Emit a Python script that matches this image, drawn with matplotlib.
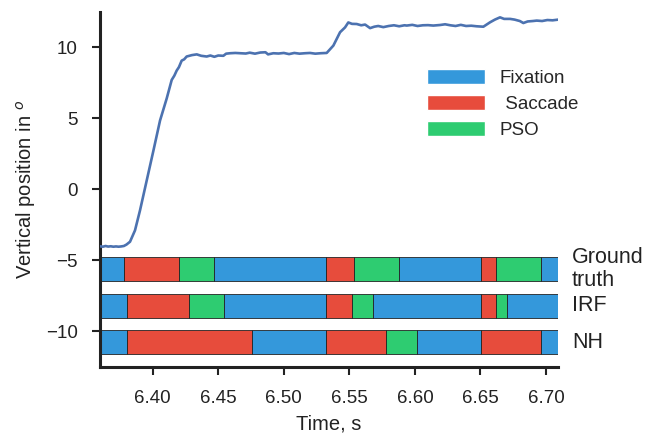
import matplotlib
matplotlib.use("Agg")
import matplotlib.pyplot as plt
import seaborn as sns
from matplotlib.patches import Patch

# eye-tracking trace, time in s and vertical position in degrees
time = [6.3598, 6.362, 6.364, 6.366, 6.368, 6.370, 6.372, 6.374, 6.376, 6.378,
        6.380, 6.3827, 6.3865, 6.3903, 6.3954, 6.4005, 6.4056, 6.4107, 6.4145, 6.4165,
        6.4183, 6.420, 6.4221, 6.424, 6.4259, 6.430, 6.4336, 6.437, 6.4412, 6.444,
        6.447, 6.450, 6.4539, 6.456, 6.459, 6.463, 6.467, 6.471, 6.474, 6.478,
        6.482, 6.486, 6.488, 6.492, 6.496, 6.500, 6.504, 6.508, 6.512, 6.516,
        6.520, 6.524, 6.528, 6.5327, 6.5378, 6.5429, 6.5467, 6.5492, 6.552, 6.5556,
        6.559, 6.562, 6.5658, 6.569, 6.572, 6.5759, 6.580, 6.584, 6.588, 6.592,
        6.5938, 6.598, 6.602, 6.606, 6.610, 6.614, 6.6192, 6.623, 6.627, 6.631,
        6.635, 6.639, 6.643, 6.647, 6.6522, 6.6573, 6.661, 6.6649, 6.668, 6.6726,
        6.676, 6.680, 6.6827, 6.686, 6.690, 6.6929, 6.697, 6.701, 6.705, 6.7094]
position = [-4.02, -4.05, -4.0, -4.04, -4.02, -4.05, -4.03, -4.05, -4.03, -4.0,
            -3.9, -3.7, -2.9, -1.5, 0.6, 2.7, 4.84, 6.4, 7.7, 8.0,
            8.36, 8.6, 9.06, 9.15, 9.35, 9.45, 9.5, 9.4, 9.35, 9.42,
            9.33, 9.42, 9.4, 9.55, 9.58, 9.6, 9.58, 9.56, 9.62, 9.55,
            9.63, 9.65, 9.5, 9.58, 9.56, 9.6, 9.52, 9.6, 9.55, 9.58,
            9.6, 9.55, 9.58, 9.6, 10.12, 11.06, 11.4, 11.75, 11.65, 11.64,
            11.55, 11.6, 11.35, 11.45, 11.5, 11.42, 11.5, 11.55, 11.48, 11.55,
            11.53, 11.58, 11.5, 11.55, 11.56, 11.53, 11.57, 11.62, 11.55, 11.5,
            11.58, 11.5, 11.52, 11.48, 11.45, 11.76, 11.95, 12.11, 12.0, 12.0,
            11.95, 11.85, 11.71, 11.82, 11.85, 11.88, 11.85, 11.92, 11.9, 11.95]

# event segmentation per method: boundaries and the event in each segment
gt_bounds = [6.3598, 6.3783, 6.4203, 6.4465, 6.532, 6.5538, 6.5881, 6.6502, 6.6619, 6.696, 6.7094]
gt_events = ["Fixation", "Saccade", "PSO", "Fixation", "Saccade", "PSO", "Fixation", "Saccade", "PSO", "Fixation"]
irf_bounds = [6.3598, 6.3802, 6.428, 6.4542, 6.532, 6.5518, 6.5678, 6.6502, 6.6619, 6.670, 6.7094]
irf_events = ["Fixation", "Saccade", "PSO", "Fixation", "Saccade", "PSO", "Fixation", "Saccade", "PSO", "Fixation"]
nh_bounds = [6.3598, 6.3802, 6.476, 6.532, 6.5777, 6.6019, 6.6502, 6.696, 6.7094]
nh_events = ["Fixation", "Saccade", "Fixation", "Saccade", "PSO", "Fixation", "Saccade", "Fixation"]

row_names = ["Ground\ntruth", "IRF", "NH"]
colors = {"Fixation": "#3498db", "Saccade": "#e74c3c", "PSO": "#2ecc71"}

sns.set_style("ticks")
plt.rcParams["font.family"] = ["Liberation Sans", "DejaVu Sans"]

fig = plt.figure(figsize=(6.6, 4.37), dpi=100)
ax = fig.add_axes([0.1515, 0.161, 0.6945, 0.812])

ax.plot(time, position, color="#4c72b0", lw=1.9, zorder=3)

# horizontal bars for each method
rows = [(gt_bounds, gt_events), (irf_bounds, irf_events), (nh_bounds, nh_events)]
bottoms = [-6.48, -9.06, -11.64]
height = 1.69
for (bounds, events), y0, name in zip(rows, bottoms, row_names):
    segs = [(bounds[i], bounds[i + 1] - bounds[i]) for i in range(len(events))]
    ax.broken_barh(segs, (y0, height), facecolors=[colors[e] for e in events],
                   edgecolor="#222222", linewidth=0.6, zorder=2)
    ax.text(1.03, y0 + height / 2, name, transform=ax.get_yaxis_transform(),
            fontsize=15.5, va="center", ha="left", color="#222222", linespacing=1.1)

ax.set_xlim(6.3598, 6.7094)
ax.set_ylim(-12.5, 12.5)
ax.set_yticks([-10, -5, 0, 5, 10])
ax.set_xticks([6.40, 6.45, 6.50, 6.55, 6.60, 6.65, 6.70])
ax.set_xticklabels(["6.40", "6.45", "6.50", "6.55", "6.60", "6.65", "6.70"])
ax.tick_params(labelsize=13.5, length=6, width=1.5, colors="#222222")
ax.tick_params(axis="x", pad=11)
ax.tick_params(axis="y", pad=10)
for s in ["left", "bottom"]:
    ax.spines[s].set_linewidth(2.2)
    ax.spines[s].set_color("#222222")
sns.despine(ax=ax)

ax.set_xlabel("Time, s", fontsize=14.5, color="#222222", labelpad=5)
ax.set_ylabel("Vertical position in $^o$", fontsize=14.5, color="#222222", labelpad=6)

handles = [Patch(facecolor=colors[k]) for k in ["Fixation", "Saccade", "PSO"]]
fig.legend(handles, ["Fixation", " Saccade", "PSO"], loc="center",
           bbox_to_anchor=(0.761, 0.762), frameon=False, fontsize=13.5,
           handlelength=3.1, handleheight=0.85, labelspacing=0.42, handletextpad=0.8)

fig.savefig("out.png", dpi=100)
